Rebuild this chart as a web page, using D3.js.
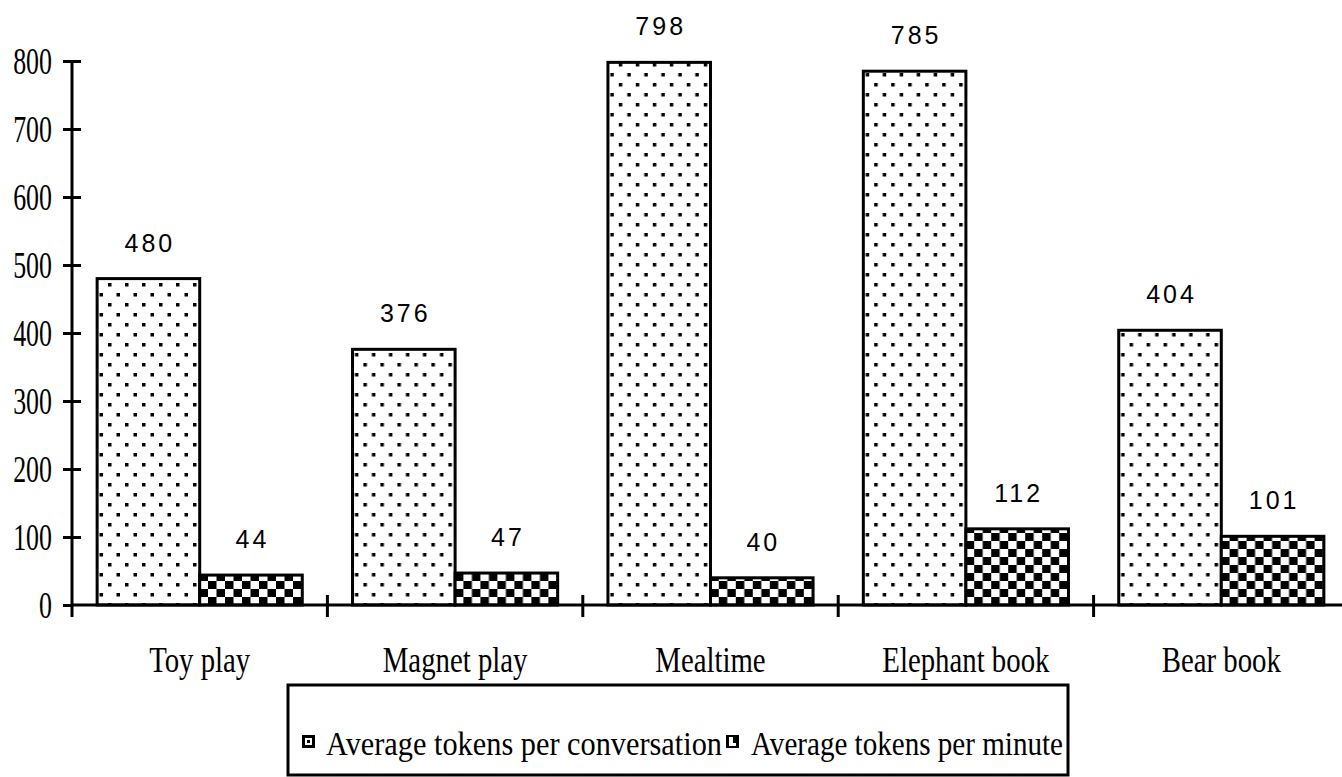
<!DOCTYPE html>
<html><head><meta charset="utf-8">
<script src="https://cdn.jsdelivr.net/npm/d3@7"></script>
<style>
html,body{margin:0;padding:0;background:#fff;}
svg{display:block;}
</style></head>
<body>
<script>
const categories = ["Toy play","Magnet play","Mealtime","Elephant book","Bear book"];
const seriesNames = ["Average tokens per conversation","Average tokens per minute"];
const perConversation = [480,376,798,785,404];
const perMinute = [44,47,40,112,101];
const yTicks = [0,100,200,300,400,500,600,700,800];

const W = 1342, H = 777;
const svg = d3.select("body").append("svg").attr("width",W).attr("height",H);

const defs = svg.append("defs");
const dots = defs.append("pattern").attr("id","dots").attr("patternUnits","userSpaceOnUse")
  .attr("width",17).attr("height",20).attr("x",2).attr("y",3);
dots.append("rect").attr("width",17).attr("height",20).attr("fill","#fff");
dots.append("rect").attr("x",0).attr("y",0).attr("width",3.5).attr("height",3.5).attr("fill","#000");
dots.append("rect").attr("x",8.5).attr("y",10).attr("width",3.5).attr("height",3.5).attr("fill","#000");

const chk = defs.append("pattern").attr("id","checker").attr("patternUnits","userSpaceOnUse")
  .attr("width",17).attr("height",16).attr("x",0).attr("y",5);
chk.append("rect").attr("width",17).attr("height",16).attr("fill","#fff");
chk.append("rect").attr("x",0).attr("y",0).attr("width",8.5).attr("height",8).attr("fill","#000");
chk.append("rect").attr("x",8.5).attr("y",8).attr("width",8.5).attr("height",8).attr("fill","#000");

const x0 = d3.scaleBand().domain(categories).range([72,1349]).padding(0);
const x1 = d3.scaleBand().domain(seriesNames).range([0,x0.bandwidth()]).paddingInner(0).paddingOuter(0.245);
const y = d3.scaleLinear().domain([0,800]).range([605,61]);

const data = categories.map((c,i)=>({cat:c, vals:[
  {s:seriesNames[0], v:perConversation[i], fill:"url(#dots)"},
  {s:seriesNames[1], v:perMinute[i], fill:"url(#checker)"}]}));

// bars
const groups = svg.append("g").selectAll("g").data(data).join("g")
  .attr("transform",d=>`translate(${x0(d.cat)},0)`);
groups.selectAll("rect").data(d=>d.vals).join("rect")
  .attr("x",d=>x1(d.s)).attr("width",x1.bandwidth())
  .attr("y",d=>y(d.v)).attr("height",d=>y(0)-y(d.v))
  .attr("fill",d=>d.fill).attr("stroke","#000").attr("stroke-width",3);
groups.selectAll("text").data(d=>d.vals).join("text")
  .attr("x",d=>x1(d.s)+x1.bandwidth()/2+1.5).attr("y",d=>y(d.v)-27)
  .attr("text-anchor","middle")
  .style("font-family","'Liberation Sans',Arial,sans-serif").style("font-size","25px")
  .style("letter-spacing","3px").attr("fill","#000")
  .text(d=>d.v);

// y axis
const yAxis = svg.append("g").attr("transform","translate(72,0)")
  .call(d3.axisLeft(y).tickValues(yTicks).tickSize(9).tickFormat(d3.format("d")));
yAxis.select(".domain").remove();
yAxis.selectAll(".tick line").attr("x1",-9).attr("x2",d=>d===0?0:9).attr("stroke","#000").attr("stroke-width",3);
yAxis.selectAll(".tick text").attr("x",null).attr("dy",null)
  .attr("transform","translate(-20,12) scale(0.7,1)")
  .attr("text-anchor","end").attr("fill","#000")
  .style("font-family","'Liberation Serif','Times New Roman',serif").style("font-size","37px");
svg.append("line").attr("x1",72).attr("x2",72).attr("y1",y(800)).attr("y2",617)
  .attr("stroke","#000").attr("stroke-width",3);

// x axis
const xAxis = svg.append("g").attr("transform",`translate(0,${y(0)})`)
  .call(d3.axisBottom(x0).tickSize(0).tickPadding(0));
xAxis.select(".domain").remove();
xAxis.selectAll(".tick text").attr("y",null).attr("dy",null)
  .attr("transform","translate(0,67) scale(0.8,1)")
  .attr("fill","#000")
  .style("font-family","'Liberation Serif','Times New Roman',serif").style("font-size","36px");
svg.append("line").attr("x1",72).attr("x2",W).attr("y1",y(0)).attr("y2",y(0))
  .attr("stroke","#000").attr("stroke-width",3);
svg.append("g").selectAll("line").data(categories).join("line")
  .attr("x1",d=>x0(d)+x0.bandwidth()).attr("x2",d=>x0(d)+x0.bandwidth())
  .attr("y1",y(0)-10).attr("y2",617).attr("stroke","#000").attr("stroke-width",3);

// legend
const lg = svg.append("g");
lg.append("rect").attr("x",288).attr("y",685).attr("width",780).attr("height",90)
  .attr("fill","#fff").attr("stroke","#000").attr("stroke-width",3);
const legendPos = [{mx:302, tx:326, len:396},{mx:726, tx:751, len:312}];
seriesNames.forEach((s,i)=>{
  const p = legendPos[i];
  lg.append("rect").attr("x",p.mx).attr("y",735).attr("width",13).attr("height",13).attr("fill","#000");
  if(i===0){
    lg.append("rect").attr("x",p.mx+3).attr("y",738).attr("width",7).attr("height",7).attr("fill","#fff");
    lg.append("rect").attr("x",p.mx+5).attr("y",740).attr("width",3).attr("height",3).attr("fill","#000");
  } else {
    lg.append("rect").attr("x",p.mx+3).attr("y",737).attr("width",4).attr("height",6).attr("fill","#fff");
    lg.append("rect").attr("x",p.mx+3).attr("y",743).attr("width",7).attr("height",3).attr("fill","#fff");
  }
  lg.append("text").attr("x",p.tx).attr("y",755)
    .attr("textLength",p.len).attr("lengthAdjust","spacingAndGlyphs")
    .style("font-family","'Liberation Serif','Times New Roman',serif").style("font-size","34px")
    .attr("fill","#000").text(s);
});
</script>
</body></html>
